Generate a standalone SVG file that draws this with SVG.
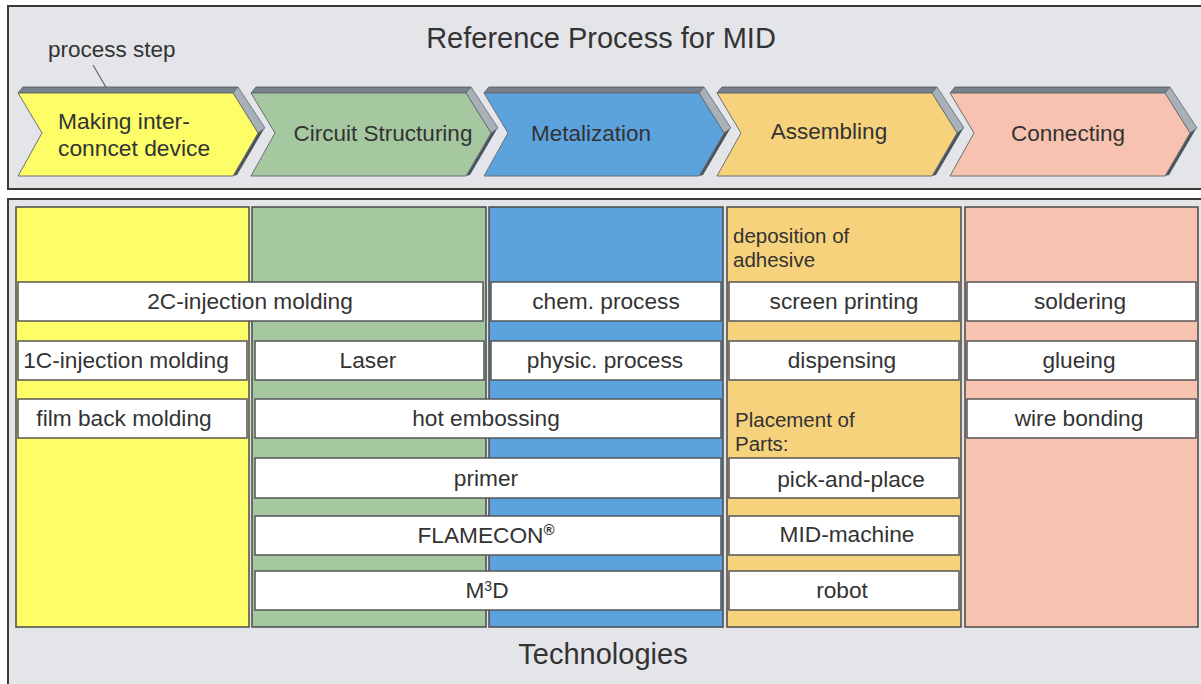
<svg xmlns="http://www.w3.org/2000/svg" width="1201" height="684" viewBox="0 0 1201 684">
<style>
text{font-family:"Liberation Sans",Arial,sans-serif;fill:#333;}
.panel{fill:#e4e5e9;stroke:#3a3a3a;stroke-width:2;}
.col{stroke:#4a4a4a;stroke-width:1.5;}
.cell{fill:#fff;stroke:#555;stroke-width:1.5;}
.ct{font-size:22.7px;text-anchor:middle;}
.lt{font-size:20.5px;}
.chev{font-size:22.5px;text-anchor:middle;}
.bar{fill:#76818c;stroke:#4e5862;stroke-width:0.8;}
.bev{fill:#a9b0b8;stroke:#5e6872;stroke-width:0.8;}
.shd{fill:#4a545e;}
.body{stroke:#6a6f74;stroke-width:1;}
</style>
<defs>
<g id="chevshape">
<polygon class="bar" points="0,93 5,87 220,87 215,93"/>
<polygon class="bev" points="215,93 220,87 247,128 240,133"/>
<polygon class="shd" points="240,133 246,129 219,175 215,176"/>
</g>
</defs>
<rect width="1201" height="684" fill="#ffffff"/>
<!-- top panel -->
<rect class="panel" x="8" y="6" width="1200" height="183"/>
<text x="601" y="48" font-size="29" text-anchor="middle">Reference Process for MID</text>
<text x="48" y="57" font-size="22.5">process step</text>
<line x1="93" y1="65" x2="107" y2="89" stroke="#666" stroke-width="1.2"/>

<g id="step-making">
<use href="#chevshape" x="18"/>
<polygon class="body" fill="#fdfd68" points="18,93 233,93 258,133 233,176 18,176 42,133"/>
<text x="58" y="129" font-size="22.8">Making inter-</text>
<text x="58" y="156" font-size="22.8">conncet device</text>
</g>
<g id="step-circuit">
<use href="#chevshape" x="251"/>
<polygon class="body" fill="#a6c8a1" points="251,93 466,93 491,133 466,176 251,176 275,133"/>
<text class="chev" x="383" y="141">Circuit Structuring</text>
</g>
<g id="step-metal">
<use href="#chevshape" x="484"/>
<polygon class="body" fill="#5ca3de" points="484,93 699,93 724,133 699,176 484,176 508,133"/>
<text class="chev" x="591" y="141">Metalization</text>
</g>
<g id="step-assembling">
<use href="#chevshape" x="717"/>
<polygon class="body" fill="#f6d27c" points="717,93 932,93 957,133 932,176 717,176 741,133"/>
<text class="chev" x="829" y="139">Assembling</text>
</g>
<g id="step-connecting">
<use href="#chevshape" x="950"/>
<polygon class="body" fill="#f7c3b0" points="950,93 1165,93 1190,133 1165,176 950,176 974,133"/>
<text class="chev" x="1068" y="141">Connecting</text>
</g>

<!-- bottom panel -->
<rect class="panel" x="8" y="199" width="1200" height="500"/>
<g id="columns">
<rect class="col" fill="#fdfd68" x="16" y="207" width="233" height="420"/>
<rect class="col" fill="#a6c8a1" x="252" y="207" width="234" height="420"/>
<rect class="col" fill="#5ca3de" x="489" y="207" width="234" height="420"/>
<rect class="col" fill="#f6d27c" x="727" y="207" width="234" height="420"/>
<rect class="col" fill="#f7c3b0" x="965" y="207" width="233" height="420"/>
</g>
<text x="603" y="664" font-size="29" text-anchor="middle">Technologies</text>

<g id="label-deposition">
<text class="lt" x="733" y="243">deposition of</text>
<text class="lt" x="733" y="267">adhesive</text>
</g>
<g id="label-placement">
<text class="lt" x="735" y="427">Placement of</text>
<text class="lt" x="735" y="451">Parts:</text>
</g>

<g id="c-2c"><rect class="cell" x="18" y="282" width="465" height="39"/><text class="ct" x="250" y="309">2C-injection molding</text></g>
<g id="c-chem"><rect class="cell" x="491" y="282" width="230" height="39"/><text class="ct" x="606" y="309">chem. process</text></g>
<g id="c-screen"><rect class="cell" x="729" y="282" width="230" height="39"/><text class="ct" x="844" y="309">screen printing</text></g>
<g id="c-solder"><rect class="cell" x="967" y="282" width="229" height="39"/><text class="ct" x="1080" y="309">soldering</text></g>

<g id="c-1c"><rect class="cell" x="18" y="341" width="229" height="39"/><text class="ct" x="126" y="368">1C-injection molding</text></g>
<g id="c-laser"><rect class="cell" x="255" y="341" width="229" height="39"/><text class="ct" x="368" y="368">Laser</text></g>
<g id="c-physic"><rect class="cell" x="491" y="341" width="230" height="39"/><text class="ct" x="605" y="368">physic. process</text></g>
<g id="c-disp"><rect class="cell" x="729" y="341" width="230" height="39"/><text class="ct" x="842" y="368">dispensing</text></g>
<g id="c-glue"><rect class="cell" x="967" y="341" width="229" height="39"/><text class="ct" x="1079" y="368">glueing</text></g>

<g id="c-film"><rect class="cell" x="18" y="399" width="229" height="39"/><text class="ct" x="124" y="426">film back molding</text></g>
<g id="c-hot"><rect class="cell" x="255" y="399" width="466" height="39"/><text class="ct" x="486" y="426">hot embossing</text></g>
<g id="c-wire"><rect class="cell" x="967" y="399" width="229" height="39"/><text class="ct" x="1079" y="426">wire bonding</text></g>

<g id="c-primer"><rect class="cell" x="255" y="458" width="466" height="40"/><text class="ct" x="486" y="486">primer</text></g>
<g id="c-pick"><rect class="cell" x="729" y="458" width="230" height="40"/><text class="ct" x="851" y="487">pick-and-place</text></g>

<g id="c-flame"><rect class="cell" x="255" y="516" width="466" height="39"/><text class="ct" x="486" y="543">FLAMECON<tspan font-size="15" dy="-8" font-weight="bold">®</tspan></text></g>
<g id="c-mid"><rect class="cell" x="729" y="516" width="230" height="39"/><text class="ct" x="847" y="542">MID-machine</text></g>

<g id="c-m3d"><rect class="cell" x="255" y="571" width="466" height="39"/><text class="ct" x="487" y="598">M<tspan font-size="14" dy="-7">3</tspan><tspan dy="7">D</tspan></text></g>
<g id="c-robot"><rect class="cell" x="729" y="571" width="230" height="39"/><text class="ct" x="842" y="598">robot</text></g>
</svg>
